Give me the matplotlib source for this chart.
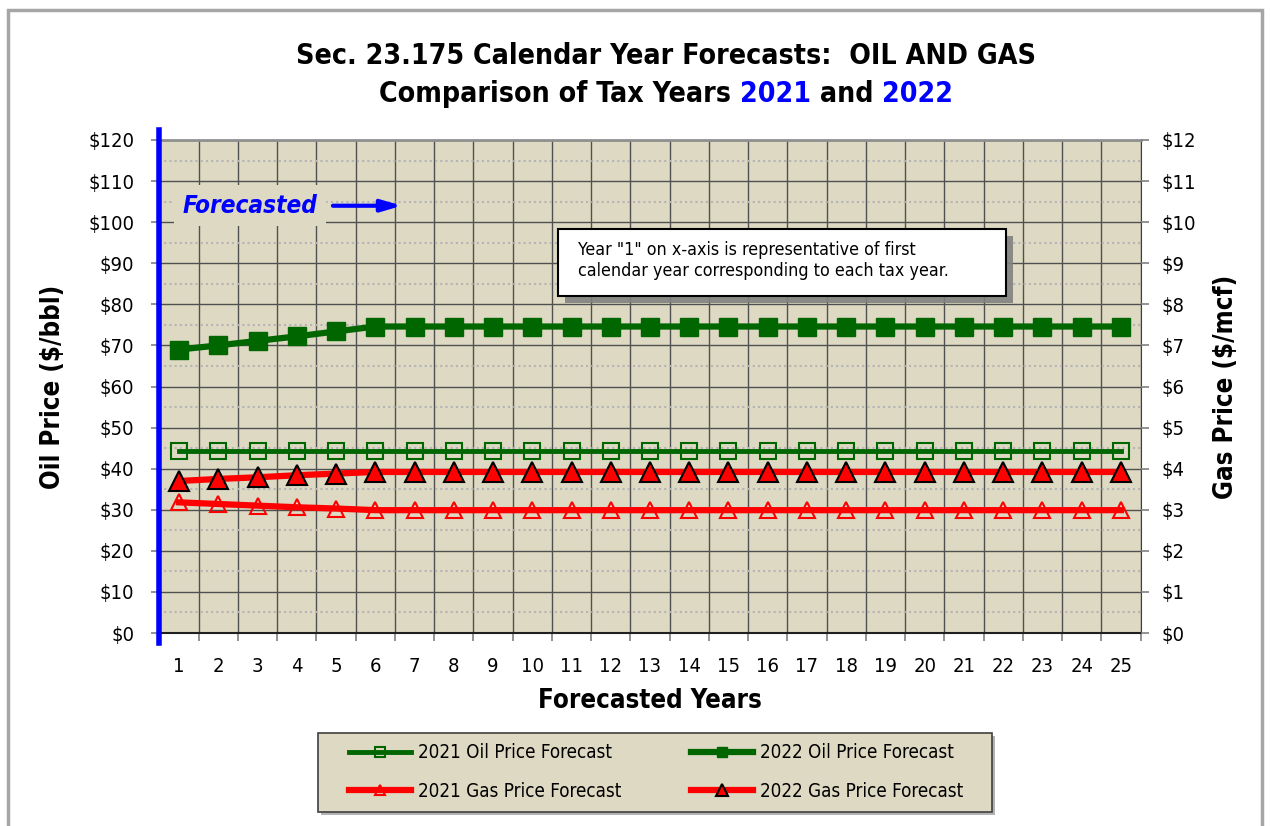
import matplotlib
matplotlib.use("Agg")
import matplotlib.pyplot as plt
import matplotlib.patheffects as pe
from matplotlib.patches import Rectangle
from matplotlib.ticker import MultipleLocator, FuncFormatter

# forecast data
years = [1, 2, 3, 4, 5, 6, 7, 8, 9, 10, 11, 12, 13, 14, 15, 16, 17, 18, 19, 20, 21, 22, 23, 24, 25]
oil_2021 = [44.4, 44.4, 44.4, 44.4, 44.4, 44.4, 44.4, 44.4, 44.4, 44.4, 44.4, 44.4, 44.4,
            44.4, 44.4, 44.4, 44.4, 44.4, 44.4, 44.4, 44.4, 44.4, 44.4, 44.4, 44.4]
oil_2022 = [69.0, 70.0, 71.1, 72.2, 73.4, 74.6, 74.6, 74.6, 74.6, 74.6, 74.6, 74.6, 74.6,
            74.6, 74.6, 74.6, 74.6, 74.6, 74.6, 74.6, 74.6, 74.6, 74.6, 74.6, 74.6]
gas_2021 = [3.18, 3.14, 3.10, 3.06, 3.03, 2.99, 2.99, 2.99, 2.99, 2.99, 2.99, 2.99, 2.99,
            2.99, 2.99, 2.99, 2.99, 2.99, 2.99, 2.99, 2.99, 2.99, 2.99, 2.99, 2.99]
gas_2022 = [3.70, 3.75, 3.79, 3.84, 3.88, 3.92, 3.92, 3.92, 3.92, 3.92, 3.92, 3.92, 3.92,
            3.92, 3.92, 3.92, 3.92, 3.92, 3.92, 3.92, 3.92, 3.92, 3.92, 3.92, 3.92]
labels = ["2021 Oil Price Forecast", "2022 Oil Price Forecast",
          "2021 Gas Price Forecast", "2022 Gas Price Forecast"]

BG = "#DDD9C3"
GREEN = "#006600"
RED = "#FF0000"

plt.rcParams['font.family'] = "DejaVu Sans"
plt.rcParams['font.stretch'] = "condensed"

W, H = 1270, 826
fig = plt.figure(figsize=(W / 100, H / 100), dpi=100)

# outer chart frame
fig.patches.append(Rectangle((8 / W, -0.05), 1254 / W, 1.05 - 10 / H, transform=fig.transFigure,
                             fill=False, ec="#A6A6A6", lw=2.5))

ax = fig.add_axes([159.4 / W, 1 - 633 / H, 981.2 / W, 493 / H])
ax.set_facecolor(BG)
ax.set_xlim(years[0] - 0.5, years[-1] + 0.5)
ax.set_ylim(0, 120)

# category boundaries for the vertical grid
bounds = [y - 0.5 for y in years] + [years[-1] + 0.5]
ax.set_xticks(years)
ax.set_xticks(bounds, minor=True)
ax.yaxis.set_major_locator(MultipleLocator(10))
ax.yaxis.set_minor_locator(MultipleLocator(5))
ax.yaxis.set_major_formatter(FuncFormatter(lambda v, p: "$%d" % v))
ax.grid(which="minor", axis="x", color="#505050", lw=1)
ax.grid(which="major", axis="y", color="#505050", lw=1)
ax.grid(which="minor", axis="y", color="#B4B4B4", lw=1.5, linestyle=(0, (1, 1.5)))
ax.set_axisbelow(True)
ax.tick_params(axis="x", which="major", length=0, pad=17, labelsize=14.5)
ax.tick_params(axis="x", which="minor", length=6, color="#808080", width=1.2)
ax.tick_params(axis="y", which="major", length=6, color="#808080", width=1.2, pad=12, labelsize=14.5)
ax.tick_params(axis="y", which="minor", length=0)
ax.spines["left"].set_visible(False)
ax.spines["top"].set_color("#909090")
ax.spines["top"].set_linewidth(2)
ax.spines["right"].set_color("#404040")
ax.spines["bottom"].set_color("#202020")
ax.spines["bottom"].set_linewidth(1.5)
ax.axvline(years[0] - 0.5, ymin=-0.02, ymax=1.02, color="blue", lw=4, clip_on=False, zorder=6)

ax2 = ax.twinx()
ax2.set_ylim(0, 12)
ax2.yaxis.set_major_locator(MultipleLocator(1))
ax2.yaxis.set_major_formatter(FuncFormatter(lambda v, p: "$%d" % v))
ax2.tick_params(axis="y", length=6, color="#808080", width=1.2, pad=9, labelsize=14.5)
for s in ax2.spines.values():
    s.set_visible(False)

l_oil21, = ax.plot(years, oil_2021, color=GREEN, lw=3.5, marker="s", ms=12,
                   mfc="none", mec=GREEN, mew=1.5, zorder=4)
l_oil22, = ax.plot(years, oil_2022, color=GREEN, lw=4.5, marker="s", ms=13,
                   mfc=GREEN, mec=GREEN, zorder=4)
l_gas21, = ax2.plot(years, gas_2021, color=RED, lw=4.5, marker="^", ms=12,
                    mfc="none", mec=RED, mew=1.5, zorder=4)
l_gas22, = ax2.plot(years, gas_2022, color=RED, lw=4.5, marker="^", ms=15,
                    mfc=RED, mec="black", mew=1.5, zorder=4)

ax.set_ylabel("Oil Price ($/bbl)", fontsize=18.5, fontweight="bold", labelpad=16)
ax2.set_ylabel("Gas Price ($/mcf)", fontsize=18.5, fontweight="bold", labelpad=12, rotation=90)
ax.set_xlabel("Forecasted Years", fontsize=18.5, fontweight="bold", labelpad=9)

# forecast marker
ax.text(1.1, 104, "Forecasted", color="blue", fontsize=17.5, fontweight="bold", style="italic",
        ha="left", va="center", zorder=5,
        bbox=dict(boxstyle="square,pad=0.35", fc=BG, ec="none"))
ax.annotate("", xy=(6.75, 104), xytext=(4.85, 104), zorder=5,
            arrowprops=dict(arrowstyle="-|>,head_length=1.2,head_width=0.35", color="blue", lw=3))

# note box
box = Rectangle((10.66, 82.0), 11.41, 16.3, fc="white", ec="black", lw=1.5, zorder=5)
box.set_path_effects([pe.SimplePatchShadow(offset=(5, -5), shadow_rgbFace="#808080", alpha=0.9),
                      pe.Normal()])
ax.add_patch(box)
ax.text(11.16, 95.4, 'Year "1" on x-axis is representative of first\n'
        'calendar year corresponding to each tax year.',
        fontsize=12.8, ha="left", va="top", linespacing=1.2, zorder=6)

# legend frame drawn as a box with a shadow, legend entries inside
lbox = Rectangle((318 / W, 1 - 812 / H), 674 / W, 79 / H, transform=fig.transFigure,
                 fc=BG, ec="#404040", lw=1.2)
lbox.set_path_effects([pe.SimplePatchShadow(offset=(2.5, -2.5), shadow_rgbFace="#A0A0A0", alpha=0.8),
                       pe.Normal()])
fig.patches.append(lbox)
leg = fig.legend([l_oil21, l_gas21, l_oil22, l_gas22],
                 [labels[0], labels[2], labels[1], labels[3]],
                 ncol=2, loc="center", bbox_to_anchor=(656 / W, 1 - 772 / H),
                 fontsize=13.5, frameon=False,
                 handlelength=3.3, columnspacing=3.7, labelspacing=1.05,
                 handletextpad=0.4, markerscale=0.6)

# two-line title, with the years picked out in blue
renderer = fig.canvas.get_renderer()


def text_width(s, **kw):
    t = fig.text(0, 0, s + "|", **kw)
    bar = fig.text(0, 0, "|", **kw)
    w = t.get_window_extent(renderer).width - bar.get_window_extent(renderer).width
    t.remove()
    bar.remove()
    return w


def colored_line(y_px, parts, size):
    kw = dict(fontsize=size, fontweight="bold")
    full = "".join(p for p, c in parts)
    x = 666 - text_width(full, **kw) / 2
    for s, c in parts:
        fig.text(x / W, 1 - y_px / H, s, color=c, ha="left", va="baseline", **kw)
        x += text_width(s, **kw)


colored_line(64, [("Sec. 23.175 Calendar Year Forecasts:  OIL AND GAS", "black")], 20.4)
colored_line(102, [("Comparison of Tax Years ", "black"), ("2021", "blue"),
                   (" and ", "black"), ("2022", "blue")], 20.4)

fig.savefig("out.png", dpi=100)
